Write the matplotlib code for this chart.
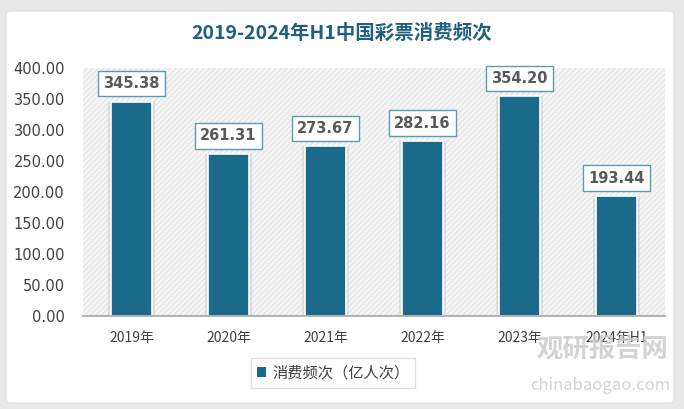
import matplotlib
matplotlib.use("Agg")
import matplotlib.pyplot as plt
from matplotlib.patches import FancyBboxPatch, Rectangle
import numpy as np

plt.rcParams['font.family'] = ['Noto Sans CJK SC', 'DejaVu Sans']

categories = ["2019年", "2020年", "2021年", "2022年", "2023年", "2024年H1"]
values = [345.38, 261.31, 273.67, 282.16, 354.20, 193.44]
series_name = "消费频次（亿人次）"
title = "2019-2024年H1中国彩票消费频次"
yticks = [0, 50, 100, 150, 200, 250, 300, 350, 400]

W, H = 684, 409
fig = plt.figure(figsize=(W/100, H/100), dpi=100)
fig.patch.set_facecolor("#e9e9e9")

card = FancyBboxPatch((6/W, 6/H), 668/W, 392/H, boxstyle="round,pad=0,rounding_size=0.008",
                      transform=fig.transFigure, facecolor="white", edgecolor="#dddddd", lw=0.8, zorder=-10)
fig.patches.append(card)

ax = fig.add_axes([83/W, 1-316/H, 582/W, 248/H])
ax.set_zorder(1)
ax.set_facecolor("#f6f6f6")
# hatched background
ax.add_patch(Rectangle((0, 0), 1, 1, transform=ax.transAxes, facecolor="#f6f6f6",
                       hatch="//////", edgecolor="#e6e6e6", lw=0, zorder=0))

x = np.arange(len(categories))
bar_color = "#1b6a8c"
# soft shadow
ax.bar(x, values, width=0.48, color="#c8c8c8", alpha=0.45, linewidth=0, zorder=1)
ax.bar(x, values, width=0.42, color=bar_color, edgecolor="white", linewidth=1.2, zorder=2)

for xi, v in zip(x, values):
    ax.annotate(f"{v:.2f}", (xi, v), xytext=(0, 13), textcoords="offset points",
                ha="center", va="center", fontsize=10.5, fontweight="bold", color="#595959",
                family=["DejaVu Sans"],
                bbox=dict(boxstyle="square,pad=0.35", facecolor="white", edgecolor="#5b9bb0", lw=1),
                zorder=3)

ax.set_xlim(-0.5, len(categories) - 0.5)
ax.set_ylim(0, 400)
ax.set_yticks(yticks)
ax.set_yticklabels([f"{t:.2f}" for t in yticks], fontsize=10.5, color="#404040",
                   family=["DejaVu Sans"])
ax.set_xticks(x)
ax.set_xticklabels(categories, fontsize=10, color="#404040")
ax.tick_params(axis="y", length=0, pad=13)
ax.tick_params(axis="x", length=0, pad=11)
for s in ["top", "right", "left"]:
    ax.spines[s].set_visible(False)
ax.spines["bottom"].set_color("#a6a6a6")
ax.spines["bottom"].set_linewidth(1.2)

fig.text(0.5, 1-33/H, title, ha="center", va="center", fontsize=14, fontweight="bold",
         color="#1f5f7f")

leg = ax.legend([Rectangle((0, 0), 1, 1, facecolor=bar_color)], [series_name],
                loc="center", bbox_to_anchor=((333-83)/582, (316-373)/248),
                frameon=True, fontsize=11, handlelength=0.6, handleheight=0.6,
                handletextpad=0.4, borderpad=0.4, fancybox=False)
leg.get_frame().set_edgecolor("#d9d9d9")
leg.get_frame().set_linewidth(1)
for t in leg.get_texts():
    t.set_color("#404040")

# watermark
fig.text(602/W, 1-350/H, "观研报告网", ha="center", va="center", fontsize=19, fontweight="bold",
         color="#cccccc", alpha=0.85, zorder=5)
fig.text(600/W, 1-385/H, "chinabaogao.com", ha="center", va="center", fontsize=12,
         color="#cccccc", alpha=0.85, zorder=5)

fig.savefig("out.png", dpi=100, facecolor=fig.get_facecolor())
